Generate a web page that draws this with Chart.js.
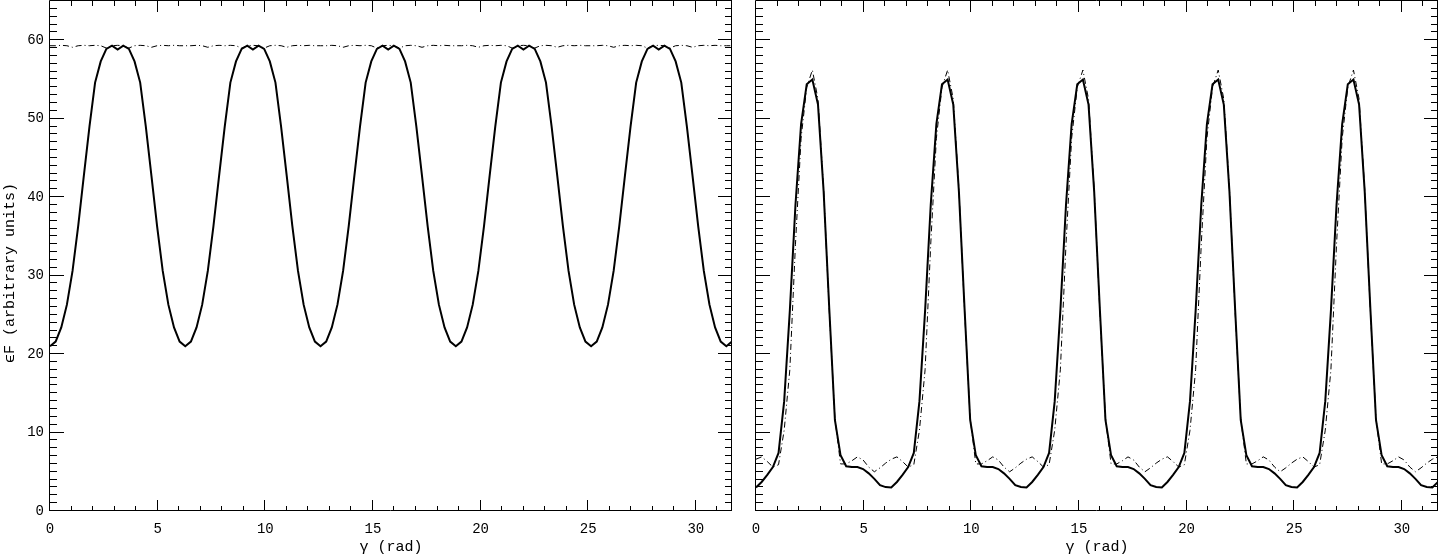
<!DOCTYPE html>
<html>
<head>
<meta charset="utf-8">
<script src="https://cdn.jsdelivr.net/npm/chart.js@4.4.1/dist/chart.umd.min.js"></script>
<style>
  html, body { margin: 0; padding: 0; background: #fff; }
  canvas { position: absolute; top: 0; }
  #left { left: 0; }
  #right { left: 741px; }
</style>
</head>
<body>
<canvas id="left" width="741" height="557"></canvas>
<canvas id="right" width="698" height="557"></canvas>
<script>
// gamma (rad), sampled every pi/12
const gamma = [
  0.000, 0.262, 0.524, 0.785, 1.047, 1.309, 1.571, 1.833, 2.094, 2.356, 2.618, 2.880,
  3.142, 3.403, 3.665, 3.927, 4.189, 4.451, 4.712, 4.974, 5.236, 5.498, 5.760, 6.021,
  6.283, 6.545, 6.807, 7.069, 7.330, 7.592, 7.854, 8.116, 8.378, 8.639, 8.901, 9.163,
  9.425, 9.687, 9.948, 10.210, 10.472, 10.734, 10.996, 11.257, 11.519, 11.781, 12.043, 12.305,
  12.566, 12.828, 13.090, 13.352, 13.614, 13.875, 14.137, 14.399, 14.661, 14.923, 15.184, 15.446,
  15.708, 15.970, 16.232, 16.493, 16.755, 17.017, 17.279, 17.541, 17.802, 18.064, 18.326, 18.588,
  18.850, 19.111, 19.373, 19.635, 19.897, 20.159, 20.420, 20.682, 20.944, 21.206, 21.468, 21.729,
  21.991, 22.253, 22.515, 22.777, 23.038, 23.300, 23.562, 23.824, 24.086, 24.347, 24.609, 24.871,
  25.133, 25.395, 25.656, 25.918, 26.180, 26.442, 26.704, 26.965, 27.227, 27.489, 27.751, 28.013,
  28.274, 28.536, 28.798, 29.060, 29.322, 29.583, 29.845, 30.107, 30.369, 30.631, 30.892, 31.154,
  31.416, 31.678
];

const leftSolid = [
  21.0, 21.6, 23.4, 26.3, 30.6, 36.3, 42.7, 49.0, 54.6, 57.3, 58.9, 59.3, 58.8, 59.3, 58.9, 57.3, 54.6, 49.0, 42.7, 36.3, 30.6, 26.3, 23.4, 21.6,
  21.0, 21.6, 23.4, 26.3, 30.6, 36.3, 42.7, 49.0, 54.6, 57.3, 58.9, 59.3, 58.8, 59.3, 58.9, 57.3, 54.6, 49.0, 42.7, 36.3, 30.6, 26.3, 23.4, 21.6,
  21.0, 21.6, 23.4, 26.3, 30.6, 36.3, 42.7, 49.0, 54.6, 57.3, 58.9, 59.3, 58.8, 59.3, 58.9, 57.3, 54.6, 49.0, 42.7, 36.3, 30.6, 26.3, 23.4, 21.6,
  21.0, 21.6, 23.4, 26.3, 30.6, 36.3, 42.7, 49.0, 54.6, 57.3, 58.9, 59.3, 58.8, 59.3, 58.9, 57.3, 54.6, 49.0, 42.7, 36.3, 30.6, 26.3, 23.4, 21.6,
  21.0, 21.6, 23.4, 26.3, 30.6, 36.3, 42.7, 49.0, 54.6, 57.3, 58.9, 59.3, 58.8, 59.3, 58.9, 57.3, 54.6, 49.0, 42.7, 36.3, 30.6, 26.3, 23.4, 21.6,
  21.0, 21.6
];

const leftDashDot = [
  59.3, 59.3, 59.35, 59.3, 59.1, 59.3, 59.35, 59.3, 59.35, 59.3, 59.0, 59.3, 59.35, 59.3, 59.0, 59.3, 59.35, 59.3, 59.1, 59.3, 59.35, 59.3, 59.35, 59.3,
  59.3, 59.3, 59.35, 59.3, 59.1, 59.3, 59.35, 59.3, 59.35, 59.3, 59.0, 59.3, 59.35, 59.3, 59.0, 59.3, 59.35, 59.3, 59.1, 59.3, 59.35, 59.3, 59.35, 59.3,
  59.3, 59.3, 59.35, 59.3, 59.1, 59.3, 59.35, 59.3, 59.35, 59.3, 59.0, 59.3, 59.35, 59.3, 59.0, 59.3, 59.35, 59.3, 59.1, 59.3, 59.35, 59.3, 59.35, 59.3,
  59.3, 59.3, 59.35, 59.3, 59.1, 59.3, 59.35, 59.3, 59.35, 59.3, 59.0, 59.3, 59.35, 59.3, 59.0, 59.3, 59.35, 59.3, 59.1, 59.3, 59.35, 59.3, 59.35, 59.3,
  59.3, 59.3, 59.35, 59.3, 59.1, 59.3, 59.35, 59.3, 59.35, 59.3, 59.0, 59.3, 59.35, 59.3, 59.0, 59.3, 59.35, 59.3, 59.1, 59.3, 59.35, 59.3, 59.35, 59.3,
  59.3, 59.3
];

const rightSolid = [
  3.0, 3.7, 4.6, 5.6, 7.4, 14.0, 25.5, 39.0, 49.3, 54.4, 55.0, 51.8, 40.7, 25.8, 11.6, 7.1, 5.7, 5.6, 5.6, 5.35, 4.8, 4.1, 3.3, 3.05,
  3.0, 3.7, 4.6, 5.6, 7.4, 14.0, 25.5, 39.0, 49.3, 54.4, 55.0, 51.8, 40.7, 25.8, 11.6, 7.1, 5.7, 5.6, 5.6, 5.35, 4.8, 4.1, 3.3, 3.05,
  3.0, 3.7, 4.6, 5.6, 7.4, 14.0, 25.5, 39.0, 49.3, 54.4, 55.0, 51.8, 40.7, 25.8, 11.6, 7.1, 5.7, 5.6, 5.6, 5.35, 4.8, 4.1, 3.3, 3.05,
  3.0, 3.7, 4.6, 5.6, 7.4, 14.0, 25.5, 39.0, 49.3, 54.4, 55.0, 51.8, 40.7, 25.8, 11.6, 7.1, 5.7, 5.6, 5.6, 5.35, 4.8, 4.1, 3.3, 3.05,
  3.0, 3.7, 4.6, 5.6, 7.4, 14.0, 25.5, 39.0, 49.3, 54.4, 55.0, 51.8, 40.7, 25.8, 11.6, 7.1, 5.7, 5.6, 5.6, 5.35, 4.8, 4.1, 3.3, 3.05,
  3.0, 3.7
];

const rightDashDot = [
  6.6, 6.9, 6.3, 5.6, 5.9, 10.3, 18.0, 34.0, 47.5, 54.0, 56.2, 52.5, 41.0, 25.5, 11.8, 6.0, 6.0, 6.4, 6.9, 6.5, 5.6, 5.0, 5.5, 6.1,
  6.6, 6.9, 6.3, 5.6, 5.9, 10.3, 18.0, 34.0, 47.5, 54.0, 56.2, 52.5, 41.0, 25.5, 11.8, 6.0, 6.0, 6.4, 6.9, 6.5, 5.6, 5.0, 5.5, 6.1,
  6.6, 6.9, 6.3, 5.6, 5.9, 10.3, 18.0, 34.0, 47.5, 54.0, 56.2, 52.5, 41.0, 25.5, 11.8, 6.0, 6.0, 6.4, 6.9, 6.5, 5.6, 5.0, 5.5, 6.1,
  6.6, 6.9, 6.3, 5.6, 5.9, 10.3, 18.0, 34.0, 47.5, 54.0, 56.2, 52.5, 41.0, 25.5, 11.8, 6.0, 6.0, 6.4, 6.9, 6.5, 5.6, 5.0, 5.5, 6.1,
  6.6, 6.9, 6.3, 5.6, 5.9, 10.3, 18.0, 34.0, 47.5, 54.0, 56.2, 52.5, 41.0, 25.5, 11.8, 6.0, 6.0, 6.4, 6.9, 6.5, 5.6, 5.0, 5.5, 6.1,
  6.6, 6.9
];

const xTicks = [0, 5, 10, 15, 20, 25, 30];
const yTicks = [0, 10, 20, 30, 40, 50, 60];
const xRange = [0, 31.678];
const yRange = [0, 65];
const yTitle = 'ϵF (arbitrary units)';

const FONT = "'Liberation Mono', 'DejaVu Sans Mono', monospace";

function pts(ys) { return gamma.map((g, i) => ({x: g, y: ys[i]})); }

// IDL-style box with inward major/minor ticks on all four sides
const frameTicks = {
  id: 'frameTicks',
  afterDatasetsDraw(chart) {
    const {ctx, chartArea: a, scales: {x, y}} = chart;
    ctx.save();
    ctx.strokeStyle = '#000';
    ctx.lineWidth = 1;
    ctx.beginPath();
    ctx.rect(a.left - 0.5, a.top - 0.5, a.right - a.left, a.bottom - a.top);
    for (let v = 0; v <= x.max; v += 1) {
      const px = Math.round(x.getPixelForValue(v)) - 0.5;
      const len = v % 5 === 0 ? 11 : 5;
      ctx.moveTo(px, a.bottom); ctx.lineTo(px, a.bottom - len);
      ctx.moveTo(px, a.top); ctx.lineTo(px, a.top + len);
    }
    for (let v = 0; v <= y.max; v += 1) {
      const py = Math.round(y.getPixelForValue(v)) - 0.5;
      const len = v % 10 === 0 ? 14 : 7;
      ctx.moveTo(a.left, py); ctx.lineTo(a.left + len, py);
      ctx.moveTo(a.right, py); ctx.lineTo(a.right - len, py);
    }
    ctx.stroke();

    // rotated y title, sits a bit below the axis middle like the original
    if (chart.canvas.id === 'left') {
      ctx.fillStyle = '#000';
      ctx.font = '15px ' + FONT;
      ctx.textAlign = 'center';
      ctx.textBaseline = 'middle';
      ctx.translate(10, (a.top + a.bottom) / 2 + 17);
      ctx.rotate(-Math.PI / 2);
      ctx.fillText(yTitle, 0, 0);
    }
    ctx.restore();
  }
};

function makeChart(id, solid, dashdot, showY, padRight, yWidth) {
  return new Chart(document.getElementById(id).getContext('2d'), {
    type: 'line',
    data: {
      datasets: [
        { data: pts(solid), borderColor: '#000', borderWidth: 2, pointRadius: 0, tension: 0 },
        { data: pts(dashdot), borderColor: '#000', borderWidth: 1, borderDash: [6, 3, 1, 3], pointRadius: 0, tension: 0 },
      ],
    },
    options: {
      responsive: false,
      animation: false,
      devicePixelRatio: 1,
      layout: { padding: { top: 1, right: padRight, left: 0, bottom: 0 } },
      plugins: { legend: { display: false }, tooltip: { enabled: false } },
      scales: {
        x: {
          type: 'linear', min: xRange[0], max: xRange[1],
          afterBuildTicks: s => { s.ticks = xTicks.map(v => ({value: v})); },
          afterFit: s => { s.height = 46; s.paddingLeft = 0; s.paddingRight = 0; },
          grid: { display: false, drawTicks: false },
          border: { display: false },
          ticks: { color: '#000', font: { family: FONT, size: 14 }, padding: 10, maxRotation: 0 },
          title: { display: true, text: 'γ (rad)', color: '#000', font: { family: FONT, size: 15 }, padding: { top: 0, bottom: 1 } },
        },
        y: {
          type: 'linear', min: yRange[0], max: yRange[1],
          afterBuildTicks: s => { s.ticks = yTicks.map(v => ({value: v})); },
          afterFit: s => { s.width = yWidth; s.paddingTop = 0; s.paddingBottom = 0; },
          grid: { display: false, drawTicks: false },
          border: { display: false },
          ticks: { display: showY, color: '#000', font: { family: FONT, size: 14 }, padding: 6 },
        },
      },
    },
    plugins: [frameTicks],
  });
}

makeChart('left', leftSolid, leftDashDot, true, 9, 50);
makeChart('right', rightSolid, rightDashDot, false, 1, 15);
</script>
</body>
</html>
